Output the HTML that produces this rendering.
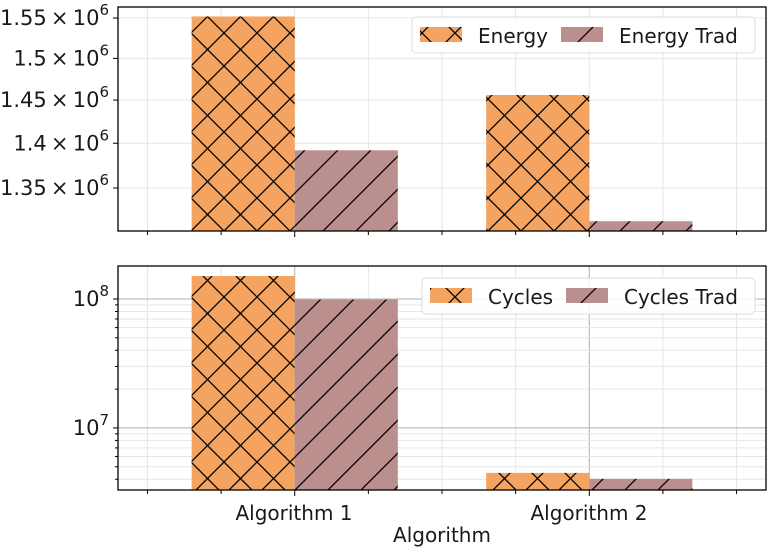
<!DOCTYPE html>
<html><head><meta charset="utf-8"><style>
body{margin:0;background:#fff}
svg text{font-family:"DejaVu Sans","Liberation Sans",sans-serif;fill:#1a1a1a}
</style></head><body>
<svg id="chart" width="772" height="548" xmlns="http://www.w3.org/2000/svg">
<defs>
<pattern id="hx" patternUnits="userSpaceOnUse" width="33" height="33" x="191" y="0">
<rect width="33" height="33" fill="#f4a460"/>
<path d="M0,0L33,33M0,33L33,0M-5,5L5,-5M28,38L38,28M-5,28L5,38M28,-5L38,5" stroke="#000" stroke-width="1.3"/>
</pattern>
<pattern id="hs" patternUnits="userSpaceOnUse" width="33" height="33" x="191" y="0">
<rect width="33" height="33" fill="#bc8f8f"/>
<path d="M0,33L33,0M-5,5L5,-5M28,38L38,28" stroke="#000" stroke-width="1.3"/>
</pattern>
</defs>
<g id="top"></g>
<g id="bot"></g>
<text x="294" y="520" font-size="20" text-anchor="middle">Algorithm 1</text>
<text x="589" y="520" font-size="20" text-anchor="middle">Algorithm 2</text>
<text x="442" y="542" font-size="20" text-anchor="middle">Algorithm</text>
</svg>
<script>
const categories=["Algorithm 1","Algorithm 2"];
const energy=[1552000,1456000];
const energyTrad=[1392000,1314000];
const cycles=[1.507e8,4.48e6];
const cyclesTrad=[0.99e8,4.03e6];
const energyTicks=[1.35e6,1.4e6,1.45e6,1.5e6,1.55e6];
const energyTickLabels=["1.35","1.4","1.45","1.5","1.55"];
const cycleTicks=[1e7,1e8];
const cycleTickLabels=["7","8"];

const NS="http://www.w3.org/2000/svg";
const L=118,R=766;
const xs=v=>L+(v+0.6)/2.2*(R-L);
function mk(p,t,a){const e=document.createElementNS(NS,t);for(const k in a)e.setAttribute(k,a[k]);p.appendChild(e);return e;}
function panel(g,T,B,ymin,ymax,s1,s2,ticks,labels,major,minorTicks,names,leg){
  const ys=v=>B-(Math.log(v)-Math.log(ymin))/(Math.log(ymax)-Math.log(ymin))*(B-T);
  for(let k=-0.5;k<=1.51;k+=0.25){const x=xs(k);const isMaj=Math.abs(k-Math.round(k))<1e-6&&k>=0;
    const l=mk(g,'line',{x1:x,x2:x,y1:T,y2:B,stroke:(major&&isMaj)?'#b0b0b0':'#e6e6e6','stroke-width':1});
    
    const t=mk(g,'line',{x1:x,x2:x,y1:B,y2:B+(isMaj?6:4),stroke:'#000'});
    }
  minorTicks.forEach(v=>{const y=ys(v);if(y<T||y>B)return;
    const l=mk(g,'line',{x1:L,x2:R,y1:y,y2:y,stroke:'#e6e6e6'});
    
    const t=mk(g,'line',{x1:L-3,x2:L,y1:y,y2:y,stroke:'#000'});
    });
  ticks.forEach((v,i)=>{const y=ys(v);
    const l=mk(g,'line',{x1:L,x2:R,y1:y,y2:y,stroke:major?'#b0b0b0':'#e6e6e6'});
    
    mk(g,'line',{x1:L-5,x2:L,y1:y,y2:y,stroke:'#000'});
    const t=mk(g,'text',{x:L-9,y:y+7,'font-size':21,'text-anchor':'end'});
    
    if(major){t.innerHTML='10<tspan dy="-10" font-size="15">'+labels[i]+'</tspan>';}
    else{t.innerHTML=labels[i]+'\u2009×\u200910<tspan dy="-10" font-size="15">6</tspan>';}});
  const w=0.35;
  categories.forEach((c,i)=>{
    let y1=ys(s1[i]);const b1=mk(g,'rect',{x:xs(i-w),y:y1,width:xs(i)-xs(i-w),height:B-y1,fill:'url(#hx)'});
    
    let y2=ys(s2[i]);const b2=mk(g,'rect',{x:xs(i),y:y2,width:xs(i+w)-xs(i),height:B-y2,fill:'url(#hs)'});
    });
  const f=mk(g,'rect',{x:L,y:T,width:R-L,height:B-T,fill:'none',stroke:'#000','stroke-width':1.3});
  
  const lg=mk(g,'g',{});
  mk(lg,'rect',{x:leg[0],y:leg[1],width:leg[2],height:36,rx:4,fill:'#fff','fill-opacity':0.85,stroke:'#ddd'});
  const sy=leg[1]+10;
  mk(lg,'rect',{x:leg[0]+8,y:sy,width:42,height:15,fill:'url(#hx)'});
  mk(lg,'text',{x:leg[0]+66,y:sy+16,'font-size':20}).textContent=leg[3];
  mk(lg,'rect',{x:leg[4],y:sy,width:42,height:15,fill:'url(#hs)'});
  mk(lg,'text',{x:leg[4]+58,y:sy+16,'font-size':20}).textContent=leg[5];
}
const minorE=[];
const minorC=[];for(let d=6;d<=8;d++)for(let m=2;m<=9;m++)minorC.push(m*Math.pow(10,d));
panel(document.getElementById('top'),7,231,1.3036e6,1.564e6,energy,energyTrad,energyTicks,energyTickLabels,false,minorE,['energy','energy-trad'],[412,17,343,'Energy',561,'Energy Trad']);
panel(document.getElementById('bot'),266,490,3.3e6,1.803e8,cycles,cyclesTrad,cycleTicks,cycleTickLabels,true,minorC,['cycles','cycles-trad'],[422,278,333,'Cycles',566,'Cycles Trad']);
</script>
</body></html>
